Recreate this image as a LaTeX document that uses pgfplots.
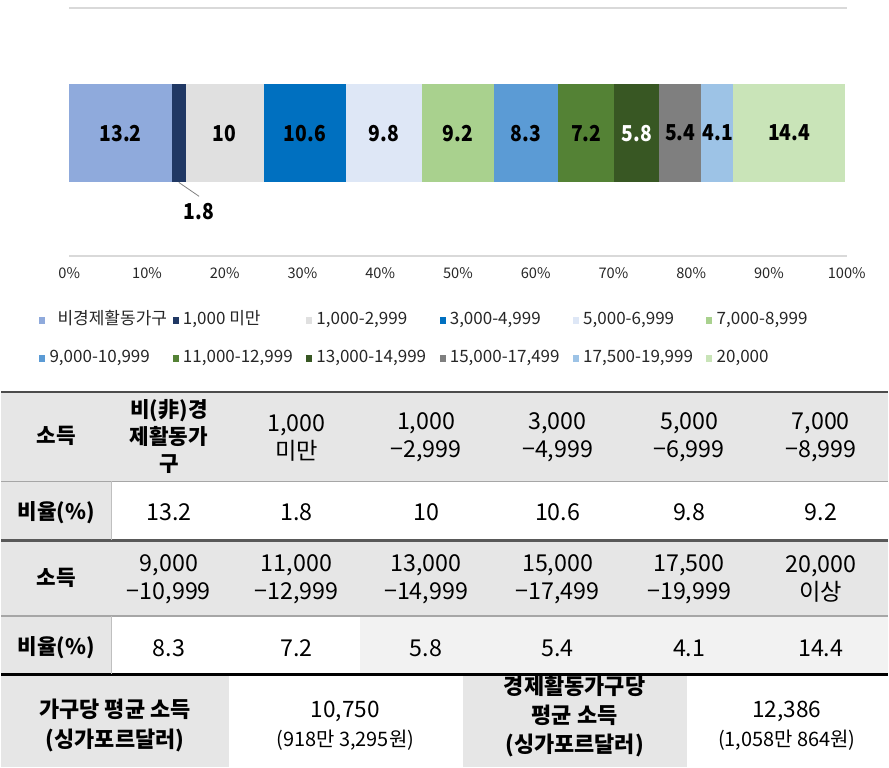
\documentclass[border=0pt]{standalone}
\usepackage{pgfplots}
\pgfplotsset{compat=1.18}
\usepackage{fontspec}
\setmainfont{Noto Sans CJK KR}
\newfontfamily\barfont{Noto Sans CJK KR}[FakeStretch=0.88]
\definecolor{c1}{HTML}{8FAADC}
\definecolor{c2}{HTML}{203864}
\definecolor{c3}{HTML}{E0E0E0}
\definecolor{c4}{HTML}{0070C0}
\definecolor{c5}{HTML}{DEE7F6}
\definecolor{c6}{HTML}{A9D18E}
\definecolor{c7}{HTML}{5B9BD5}
\definecolor{c8}{HTML}{548235}
\definecolor{c9}{HTML}{385723}
\definecolor{c10}{HTML}{7F7F7F}
\definecolor{c11}{HTML}{9DC3E6}
\definecolor{c12}{HTML}{C9E4B8}
\definecolor{hdr}{HTML}{E6E6E6}
\definecolor{lt}{HTML}{F2F2F2}
\definecolor{axl}{HTML}{D9D9D9}
\definecolor{txt}{HTML}{262626}
\newcommand{\lgbox}[1]{\makebox[92.7pt][l]{#1}}
\begin{document}
\begin{tikzpicture}
\path (0,0) rectangle (666.75pt,-577.5pt);
\begin{axis}[
  at={(51pt,-192.75pt)}, anchor=south west,
  scale only axis, width=585pt, height=186.75pt,
  xbar stacked, bar width=74.25pt,
  xmin=0, xmax=100, ymin=0, ymax=1,
  axis x line=box, axis y line=none,
  axis line style={axl, line width=1.1pt},
  major tick length=0pt,
  xtick={0,10,...,100},
  xticklabels={0\%,10\%,20\%,30\%,40\%,50\%,60\%,70\%,80\%,90\%,100\%},
  xticklabel style={font=\fontsize{11}{13}\selectfont, text=txt, yshift=-5pt},
  ytick=\empty,
  legend columns=6,
  legend image code/.code={\fill[#1] (0pt,-2.6pt) rectangle (4.5pt,2.6pt);},
  legend style={draw=none, fill=none, at={(-0.0385,-0.226)}, anchor=north west,
     inner sep=0pt, outer sep=0pt, row sep=16.5pt,
     font=\fontsize{12.8}{14}\selectfont, text=txt,
     nodes={inner sep=0pt, text height=9pt, text depth=3pt},
     /tikz/every odd column/.append style={column sep=3.2pt}},
  legend cell align=left,
]
\addplot[fill=c1, draw=none] coordinates {(13.2,0.496)}; \addlegendentry{\lgbox{\hspace{6pt}비경제활동가구}}
\addplot[fill=c2, draw=none] coordinates {(1.8,0.496)}; \addlegendentry{\lgbox{1,000 미만}}
\addplot[fill=c3, draw=none] coordinates {(10,0.496)}; \addlegendentry{\lgbox{1,000-2,999}}
\addplot[fill=c4, draw=none] coordinates {(10.6,0.496)}; \addlegendentry{\lgbox{3,000-4,999}}
\addplot[fill=c5, draw=none] coordinates {(9.8,0.496)}; \addlegendentry{\lgbox{5,000-6,999}}
\addplot[fill=c6, draw=none] coordinates {(9.2,0.496)}; \addlegendentry{\lgbox{7,000-8,999}}
\addplot[fill=c7, draw=none] coordinates {(8.3,0.496)}; \addlegendentry{\lgbox{9,000-10,999}}
\addplot[fill=c8, draw=none] coordinates {(7.2,0.496)}; \addlegendentry{\lgbox{11,000-12,999}}
\addplot[fill=c9, draw=none] coordinates {(5.8,0.496)}; \addlegendentry{\lgbox{13,000-14,999}}
\addplot[fill=c10, draw=none] coordinates {(5.4,0.496)}; \addlegendentry{\lgbox{15,000-17,499}}
\addplot[fill=c11, draw=none] coordinates {(4.1,0.496)}; \addlegendentry{\lgbox{17,500-19,999}}
\addplot[fill=c12, draw=none] coordinates {(14.4,0.496)}; \addlegendentry{\lgbox{20,000}}
\end{axis}
\begin{axis}[
  at={(51pt,-192.75pt)}, anchor=south west,
  scale only axis, width=585pt, height=186.75pt,
  xmin=0, xmax=100, ymin=0, ymax=1, hide axis, clip=false,
]
\addplot[draw=none, mark=none, nodes near coords, point meta=explicit symbolic,
  every node near coord/.append style={anchor=center, font=\barfont\bfseries\fontsize{16.5}{19}\selectfont, text=black}]
  coordinates {(6.6,0.496)[13.2] (20,0.496)[10] (30.3,0.496)[10.6] (40.5,0.496)[9.8] (50,0.496)[9.2]
  (58.75,0.496)[8.3] (66.5,0.496)[7.2] (78.6,0.496)[5.4] (83.4,0.496)[4.1] (92.6,0.496)[14.4] (16.7,0.181)[1.8]};
\addplot[draw=none, mark=none, nodes near coords, point meta=explicit symbolic,
  every node near coord/.append style={anchor=center, font=\barfont\bfseries\fontsize{16.5}{19}\selectfont, text=white}]
  coordinates {(73,0.496)[5.8]};
\draw[gray, line width=0.6pt] (axis cs:14.1,0.297) -- (axis cs:16.7,0.241);
\end{axis}
\begin{scope}[x=0.75pt,y=-0.75pt,
  tb/.style={font=\bfseries\fontsize{16}{20.5}\selectfont, align=center, text=black},
  tv/.style={font=\fontsize{17.5}{21}\selectfont, align=center, text=black}]
\fill[hdr] (0,393) rectangle (889,483);
\fill[hdr] (0,483) rectangle (110,542);
\fill[hdr] (0,542) rectangle (889,618);
\fill[hdr] (0,618) rectangle (110,677);
\fill[lt] (360,618) rectangle (889,677);
\fill[hdr] (0,677) rectangle (228,770);
\fill[hdr] (463,677) rectangle (688,770);
\draw[color=black!70, line width=1.2pt] (0,393) -- (889,393);
\draw[color=black!35, line width=1pt] (0,483) -- (889,483);
\draw[color=black!35, line width=1pt] (0,618) -- (889,618);
\draw[color=black!65, line width=2.2pt] (0,542) -- (889,542);
\draw[color=black, line width=2.2pt] (0,677) -- (889,677);
\draw[color=black!25, line width=0.75pt] (110,483) -- (110,542);
\draw[color=black!25, line width=0.75pt] (110,618) -- (110,676);
% row 1
\node[tb] at (55,437) {소득};
\node[tb] at (168,438) {비(非)경\\제활동가\\구};
\node[tv] at (296,439) {1,000\\미만};
\node[tv] at (426,439) {1,000\\−2,999};
\node[tv] at (558,439) {3,000\\−4,999};
\node[tv] at (690,439) {5,000\\−6,999};
\node[tv] at (822,439) {7,000\\−8,999};
% row 2
\node[tb] at (55,514) {비율(\%)};
\node[tv] at (168,514) {13.2};
\node[tv] at (296,514) {1.8};
\node[tv] at (426,514) {10};
\node[tv] at (558,514) {10.6};
\node[tv] at (690,514) {9.8};
\node[tv] at (822,514) {9.2};
% row 3
\node[tb] at (55,580) {소득};
\node[tv] at (168,581) {9,000\\−10,999};
\node[tv] at (296,581) {11,000\\−12,999};
\node[tv] at (426,581) {13,000\\−14,999};
\node[tv] at (558,581) {15,000\\−17,499};
\node[tv] at (690,581) {17,500\\−19,999};
\node[tv] at (822,581) {20,000\\이상};
% row 4
\node[tb] at (55,650) {비율(\%)};
\node[tv] at (168,650) {8.3};
\node[tv] at (296,650) {7.2};
\node[tv] at (426,650) {5.8};
\node[tv] at (558,650) {5.4};
\node[tv] at (690,650) {4.1};
\node[tv] at (822,650) {14.4};
% last row
\node[tb, font=\bfseries\fontsize{16.5}{22.5}\selectfont] at (114,728) {가구당 평균 소득\\(싱가포르달러)};
\node[tv, font=\fontsize{17}{22}\selectfont] at (345,728) {10,750\\{\fontsize{15}{16}\selectfont(918만 3,295원)}};
\node[tb, font=\bfseries\fontsize{16.5}{22}\selectfont] at (575,719) {경제활동가구당\\평균 소득\\(싱가포르달러)};
\node[tv, font=\fontsize{17}{22}\selectfont] at (788,728) {12,386\\{\fontsize{15}{16}\selectfont(1,058만 864원)}};
\end{scope}
\end{tikzpicture}
\end{document}
